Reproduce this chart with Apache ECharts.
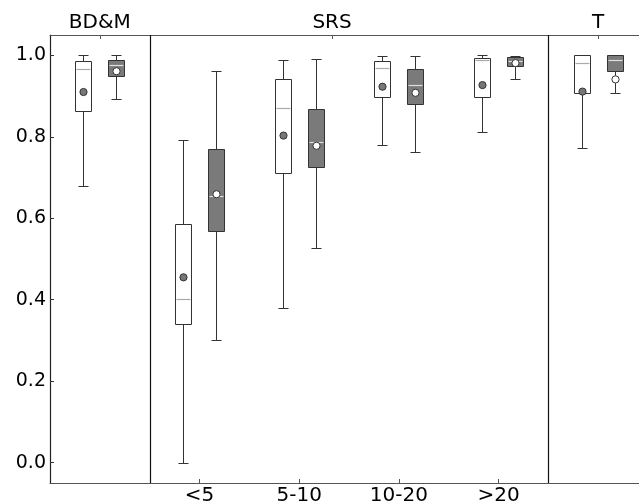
<!DOCTYPE html>
<html>
<head>
<meta charset="utf-8">
<script src="https://cdn.jsdelivr.net/npm/echarts@6/dist/echarts.min.js"></script>
<style>
html,body{margin:0;padding:0;background:#fff;}
#chart{width:639px;height:503px;}
</style>
</head>
<body>
<div id="chart"></div>
<script>
const categories = ['BD&M', '<5', '5-10', '10-20', '>20', 'T'];
const bottomTickCats = ['<5', '5-10', '10-20', '>20'];
const panelTitles = ['BD&M', 'SRS', 'T'];
const panelTitlePos = [1, 3.33, 6];
const dividerPos = [1.5, 5.5];
const yTicks = [0.0, 0.2, 0.4, 0.6, 0.8, 1.0];

const whiteMin  = [0.679, 0.000, 0.380, 0.779, 0.812, 0.772];
const whiteQ1   = [0.864, 0.340, 0.711, 0.898, 0.898, 0.908];
const whiteMed  = [0.966, 0.401, 0.871, 0.970, 0.989, 0.981];
const whiteQ3   = [0.987, 0.587, 0.943, 0.987, 0.994, 1.000];
const whiteMax  = [1.000, 0.791, 0.989, 0.998, 1.000, 1.000];
const whiteMean = [0.910, 0.455, 0.803, 0.923, 0.927, 0.911];

const grayMin  = [0.893, 0.302, 0.526, 0.762, 0.943, 0.907];
const grayQ1   = [0.950, 0.569, 0.727, 0.881, 0.974, 0.962];
const grayMed  = [0.976, 0.654, 0.787, 0.927, 0.987, 0.988];
const grayQ3   = [0.988, 0.769, 0.869, 0.967, 0.996, 1.000];
const grayMax  = [1.000, 0.961, 0.991, 0.998, 0.998, 1.000];
const grayMean = [0.961, 0.659, 0.778, 0.908, 0.981, 0.941];

function buildData(mn, q1, md, q3, mx, mean) {
  return categories.map((c, i) => [i + 1, mn[i], q1[i], md[i], q3[i], mx[i], mean[i]]);
}

const FONT = 'DejaVu Sans';
const EDGE = '#333';

function makeRender(side, fill, medColor, meanFill) {
  return function (params, api) {
    const x = api.value(0);
    const unit = api.size([1, 0])[0];
    const cx = Math.round(api.coord([x, 0])[0] + side * unit / 6) + 0.5;
    const half = Math.round(0.085 * unit);
    const cap = Math.round(0.05 * unit);
    const py = i => api.coord([x, api.value(i)])[1];
    const yMin = Math.round(py(1)) + 0.5, yQ1 = Math.round(py(2)) + 0.5, yMed = Math.round(py(3)) + 0.5;
    const yQ3 = Math.round(py(4)) + 0.5, yMax = Math.round(py(5)) + 0.5, yMean = py(6);
    const ls = { stroke: EDGE, lineWidth: 1 };
    return {
      type: 'group',
      children: [
        { type: 'line', shape: { x1: cx, y1: yQ1, x2: cx, y2: yMin }, style: ls },
        { type: 'line', shape: { x1: cx, y1: yQ3, x2: cx, y2: yMax }, style: ls },
        { type: 'line', shape: { x1: cx - cap, y1: yMin, x2: cx + cap, y2: yMin }, style: ls },
        { type: 'line', shape: { x1: cx - cap, y1: yMax, x2: cx + cap, y2: yMax }, style: ls },
        { type: 'rect', shape: { x: cx - half, y: yQ3, width: 2 * half, height: yQ1 - yQ3 },
          style: { fill: fill, stroke: EDGE, lineWidth: 1 } },
        { type: 'line', shape: { x1: cx - half + 1, y1: yMed, x2: cx + half - 1, y2: yMed },
          style: { stroke: medColor, lineWidth: 1.2 } },
        { type: 'circle', shape: { cx: cx, cy: yMean, r: 3.6 },
          style: { fill: meanFill, stroke: EDGE, lineWidth: 1 } }
      ]
    };
  };
}

const chart = echarts.init(document.getElementById('chart'), null, { renderer: 'canvas' });
chart.setOption({
  animation: false,
  backgroundColor: '#fff',
  grid: { left: 50, top: 35, width: 598, height: 448, containLabel: false, outerBoundsMode: 'none' },
  xAxis: [
    {
      type: 'value', position: 'bottom', min: 0.5, max: 6.5,
      splitLine: { show: false },
      axisLine: { show: true, onZero: false, lineStyle: { color: '#555', width: 1.2 } },
      axisTick: { show: true, inside: true, length: 4, lineStyle: { color: '#555' },
        customValues: bottomTickCats.map(c => categories.indexOf(c) + 1) },
      axisLabel: { show: true, margin: 3, fontFamily: FONT, fontSize: 20, color: '#000',
        customValues: bottomTickCats.map(c => categories.indexOf(c) + 1),
        formatter: v => categories[Math.round(v) - 1] }
    },
    {
      type: 'value', position: 'top', min: 0.5, max: 6.5,
      splitLine: { show: false },
      axisLine: { show: true, onZero: false, lineStyle: { color: '#555', width: 1.2 } },
      axisTick: { show: true, inside: true, length: 4, lineStyle: { color: '#555' },
        customValues: panelTitlePos },
      axisLabel: { show: true, margin: 2, fontFamily: FONT, fontSize: 20, color: '#000',
        customValues: panelTitlePos,
        formatter: v => panelTitles[panelTitlePos.indexOf(v)] }
    }
  ],
  yAxis: {
    type: 'value', min: -0.05, max: 1.05,
    splitLine: { show: false },
    axisLine: { show: true, onZero: false, lineStyle: { color: '#222', width: 1.2 } },
    axisTick: { show: true, inside: true, length: 4, lineStyle: { color: '#333' }, customValues: yTicks },
    axisLabel: { show: true, margin: 4, fontFamily: FONT, fontSize: 19, color: '#000',
      customValues: yTicks, formatter: v => v.toFixed(1) }
  },
  series: [
    {
      type: 'custom', name: 'dividers', silent: true,
      data: dividerPos.map(p => [p]),
      renderItem: function (params, api) {
        const x = Math.round(api.coord([api.value(0), 0])[0]) + 0.5;
        const yTop = api.coord([api.value(0), 1.05])[1];
        const yBot = api.coord([api.value(0), -0.05])[1];
        return { type: 'line', shape: { x1: x, y1: yTop, x2: x, y2: yBot },
          style: { stroke: '#111', lineWidth: 1.2 } };
      }
    },
    {
      type: 'custom', name: 'white', silent: true,
      data: buildData(whiteMin, whiteQ1, whiteMed, whiteQ3, whiteMax, whiteMean),
      renderItem: makeRender(-1, '#fff', '#aaa', '#777')
    },
    {
      type: 'custom', name: 'gray', silent: true,
      data: buildData(grayMin, grayQ1, grayMed, grayQ3, grayMax, grayMean),
      renderItem: makeRender(1, '#7a7a7a', '#ddd', '#fff')
    }
  ]
});
</script>
</body>
</html>
